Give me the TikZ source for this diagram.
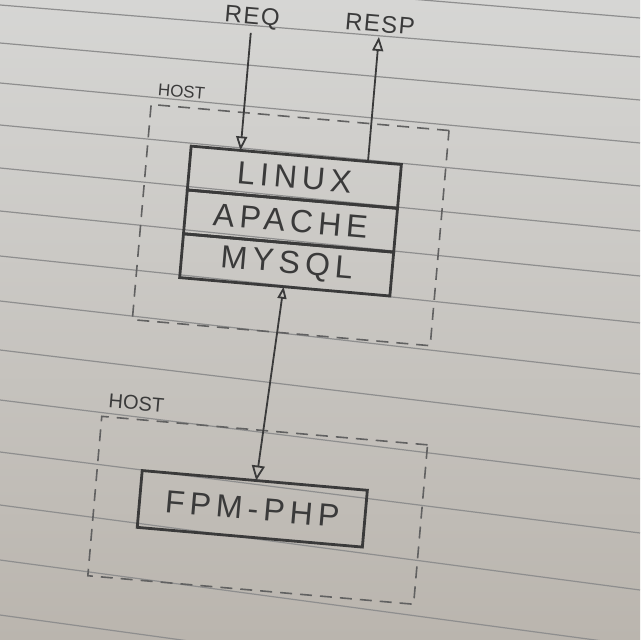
\documentclass[tikz,border=0pt]{standalone}
\usepackage{fontspec}
\setmainfont{Liberation Sans}
\usetikzlibrary{positioning,arrows.meta,calc}
\definecolor{paperhi}{RGB}{214,214,212}
\definecolor{paperlo}{RGB}{186,181,174}
\definecolor{ruling}{RGB}{142,142,142}
\definecolor{ink}{RGB}{58,58,58}
\begin{document}
\begin{tikzpicture}[x=0.5pt, y=-0.5pt,
    layer/.style={draw=ink, line width=1.4pt, minimum width=105.5pt, minimum height=22pt, inner sep=0pt, outer sep=0pt,
      text=ink, font=\fontsize{16}{16}\selectfont\addfontfeature{LetterSpace=16}},
    hostbox/.style={draw=ink!80, line width=0.8pt, dash pattern=on 6pt off 4pt, inner sep=0pt},
    hostlabel/.style={text=ink, inner sep=0pt, font=\fontsize{8.5}{8.5}\selectfont},
    msglabel/.style={text=ink, inner sep=2pt, font=\fontsize{12}{12}\selectfont\addfontfeature{LetterSpace=6}},
    flow/.style={draw=ink, line width=0.9pt, -{Triangle[open, length=7pt, width=5.5pt]}}]
  \useasboundingbox (0,0) rectangle (640,640);
  \shade[top color=paperhi, bottom color=paperlo] (0,0) rectangle (640,640);
  \foreach \l/\r in {-35/18, 5/57, 43/100, 83/143, 125/186, 168/231, 211/276, 256/323,
      301/374, 350/427, 400/479, 452/533, 505/590, 560/646, 615/703}
    \draw[ruling, line width=0.6pt] (0,\l) -- (640,\r);

  \begin{scope}[rotate around={-5:(320,320)}, transform shape]
    \node[hostbox, minimum width=149.5pt, minimum height=108pt] (hosttop) at (282.5,228) {};
    \node[hostlabel, above right=4pt and 3pt of hosttop.north west] (hosttoplabel) {HOST};
    \node[hostbox, minimum width=163.5pt, minimum height=80pt] (hostbot) at (274.5,515) {};
    \node[hostlabel, font=\fontsize{10}{10}\selectfont, above right=4pt and 3pt of hostbot.north west] (hostbotlabel) {HOST};

    \node[layer] (linux) at (282,180) {LINUX};
    \node[layer, below=0pt of linux] (apache) {APACHE};
    \node[layer, below=0pt of apache] (mysql) {MYSQL};
    \node[layer, minimum width=113pt, minimum height=28.5pt] (fpm) at (269,514) {FPM-PHP};

    \node[msglabel] (req) at (226,25) {REQ};
    \node[msglabel] (resp) at (354,20) {RESP};

    \draw[flow] (req) -- ($(linux.north west)!(req.center)!(linux.north east)$);
    \draw[flow] ($(linux.north west)!(resp.center)!(linux.north east)$) -- (resp);
    \draw[flow, {Triangle[open, length=6pt, width=4.5pt]}-{Triangle[open, length=7.5pt, width=6.5pt]}] (mysql) -- (fpm);
  \end{scope}
\end{tikzpicture}
\end{document}
